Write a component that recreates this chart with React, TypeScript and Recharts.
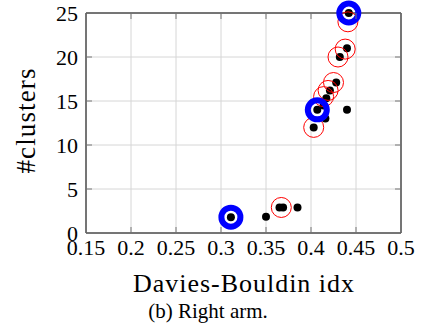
import React from "react";
import { ScatterChart, Scatter, XAxis, YAxis, CartesianGrid, ReferenceLine } from "recharts";

const xTicks = [0.15, 0.2, 0.25, 0.3, 0.35, 0.4, 0.45, 0.5];
const yTicks = [0, 5, 10, 15, 20, 25];

const allX = [0.311, 0.35, 0.365, 0.369, 0.385, 0.403, 0.416, 0.407, 0.44, 0.414, 0.417, 0.421, 0.428, 0.432, 0.44, 0.442];
const allY = [1.8, 1.85, 2.9, 2.9, 2.9, 12, 13, 14, 14, 14.5, 15.3, 16.2, 17.1, 20, 21, 25];

const redX = [0.367, 0.403, 0.414, 0.419, 0.425, 0.43, 0.438, 0.441];
const redY = [2.9, 12, 15.5, 16.2, 17.1, 20, 20.9, 24];

const blueX = [0.311, 0.407, 0.442];
const blueY = [1.8, 14, 25];

const toPts = (xs: number[], ys: number[]) => xs.map((x, i) => ({ x, y: ys[i] }));
const allPts = toPts(allX, allY);
const redPts = toPts(redX, redY);
const bluePts = toPts(blueX, blueY);

const W = 424;
const H = 326;
const M = { top: 13, right: 23, left: 0, bottom: 0 };
const YW = 86;
const XH = 93;
const PLOT_H = H - M.top - M.bottom - XH;
const PLOT_W = W - M.left - M.right - YW;
const FONT = "Liberation Serif";
const TICKC = "#777";
const st = (size: number) => ({ fontFamily: FONT, fontSize: size });

const XTick = (p: any) => {
  const { x, y, payload } = p;
  return (
    <g>
      <line x1={x} x2={x} y1={y} y2={y - 6} stroke={TICKC} strokeWidth={1} />
      <line x1={x} x2={x} y1={y - PLOT_H} y2={y - PLOT_H + 6} stroke={TICKC} strokeWidth={1} />
      <text x={x} y={y + 22} textAnchor="middle" fontFamily={FONT} style={st(22)} fill="#000">
        {String(payload.value)}
      </text>
    </g>
  );
};

const YTick = (p: any) => {
  const { x, y, payload } = p;
  return (
    <g>
      <line x1={x} x2={x + 6} y1={y} y2={y} stroke={TICKC} strokeWidth={1} />
      <line x1={x + PLOT_W} x2={x + PLOT_W - 6} y1={y} y2={y} stroke={TICKC} strokeWidth={1} />
      <text x={x - 8} y={y + 7.5} textAnchor="end" fontFamily={FONT} style={st(22)} fill="#000">
        {String(payload.value)}
      </text>
    </g>
  );
};

const BlackDot = (p: any) => <circle cx={p.cx} cy={p.cy} r={4} fill="#000" />;
const RedRing = (p: any) => <circle cx={p.cx} cy={p.cy} r={10} fill="none" stroke="#ff0000" strokeWidth={1} />;
const BlueRing = (p: any) => <circle cx={p.cx} cy={p.cy} r={9.5} fill="none" stroke="#0000ff" strokeWidth={6} />;

const XLabel = (p: any) => {
  const vb = p.viewBox;
  const cx = vb.x + vb.width / 2;
  return (
    <g>
      <text x={cx} y={vb.y + 59} textAnchor="middle" fontFamily={FONT} style={st(26)} textLength={221} lengthAdjust="spacing" fill="#000">
        Davies-Bouldin idx
      </text>
      <text x={208} y={vb.y + 85} textAnchor="middle" fontFamily={FONT} style={st(21)} fill="#000">
        (b) Right arm.
      </text>
    </g>
  );
};

const YLabel = (p: any) => {
  const vb = p.viewBox;
  const cy = vb.y + vb.height / 2 - 2;
  const bx = 35;
  return (
    <text x={bx} y={cy} transform={`rotate(-90 ${bx} ${cy})`} textAnchor="middle" fontFamily={FONT} style={st(27)} textLength={105} lengthAdjust="spacing" fill="#000">
      #clusters
    </text>
  );
};

export default function App() {
  return (
    <div style={{ position: "absolute", left: 0, top: 0, width: W, height: H, background: "#fff", fontFamily: FONT }}>
      <ScatterChart width={W} height={H} margin={M} style={{ fontFamily: FONT }}>
        <CartesianGrid stroke="#d6d6d6" strokeWidth={1} vertical horizontal />
        <XAxis
          type="number"
          dataKey="x"
          domain={[0.15, 0.5]}
          ticks={xTicks}
          height={XH}
          tickSize={0}
          tickMargin={0}
          tickLine={false}
          axisLine={{ stroke: "#000", strokeWidth: 1 }}
          tick={<XTick />}
          interval={0}
          label={<XLabel />}
        />
        <YAxis
          type="number"
          dataKey="y"
          domain={[0, 25]}
          ticks={yTicks}
          width={YW}
          tickSize={0}
          tickMargin={0}
          tickLine={false}
          axisLine={{ stroke: "#000", strokeWidth: 1 }}
          tick={<YTick />}
          interval={0}
          label={<YLabel />}
        />
        <ReferenceLine y={25} stroke="#000" strokeWidth={1} />
        <ReferenceLine x={0.5} stroke="#000" strokeWidth={1} />
        <Scatter data={allPts} shape={<BlackDot />} isAnimationActive={false} />
        <Scatter data={redPts} shape={<RedRing />} isAnimationActive={false} />
        <Scatter data={bluePts} shape={<BlueRing />} isAnimationActive={false} />
      </ScatterChart>
    </div>
  );
}
